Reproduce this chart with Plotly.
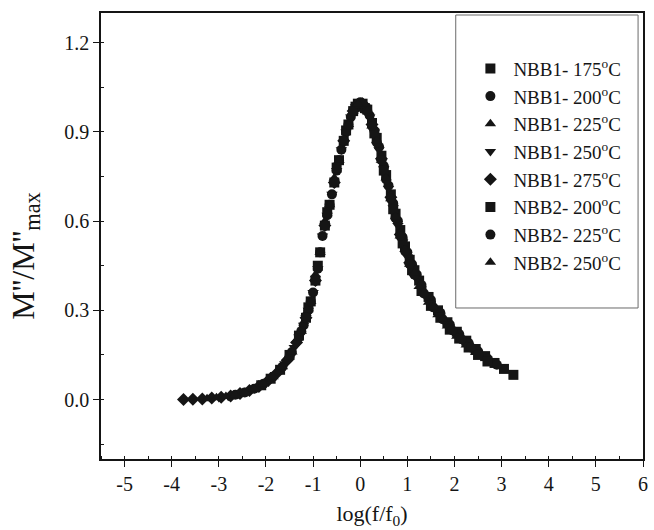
import plotly.graph_objects as go

# ---- data ----
names = ["NBB1- 175<sup>o</sup>C", "NBB1- 200<sup>o</sup>C", "NBB1- 225<sup>o</sup>C",
         "NBB1- 250<sup>o</sup>C", "NBB1- 275<sup>o</sup>C", "NBB2- 200<sup>o</sup>C",
         "NBB2- 225<sup>o</sup>C", "NBB2- 250<sup>o</sup>C"]
symbols = ["square", "circle", "triangle-up", "triangle-down", "diamond",
           "square", "circle", "triangle-up"]

x_nbb1_175 = [-1.15, -1.05, -0.95, -0.85, -0.75, -0.65, -0.55, -0.45, -0.35, -0.25, -0.15,
              -0.05, 0.05, 0.15, 0.25, 0.35, 0.45, 0.55, 0.65, 0.75, 0.85, 0.95, 1.05, 1.15,
              1.25, 1.45, 1.65, 1.85, 2.05, 2.25, 2.45, 2.65, 2.85, 3.05, 3.25]
y_nbb1_175 = [0.275, 0.33, 0.40, 0.495, 0.585, 0.655, 0.73, 0.805, 0.87, 0.925, 0.97,
              0.995, 0.995, 0.975, 0.93, 0.88, 0.82, 0.755, 0.69, 0.625, 0.57, 0.515, 0.47,
              0.435, 0.40, 0.345, 0.30, 0.26, 0.228, 0.198, 0.17, 0.146, 0.123, 0.103, 0.083]

x_nbb1_200 = [-1.7, -1.5, -1.3, -1.2, -1.1, -1.0, -0.9, -0.8, -0.7, -0.6, -0.5, -0.4, -0.3,
              -0.2, -0.1, 0.0, 0.1, 0.2, 0.3, 0.4, 0.5, 0.6, 0.7, 0.8, 0.9, 1.0, 1.1, 1.2,
              1.3, 1.5, 1.7, 1.9, 2.1, 2.3, 2.5, 2.7, 2.9]
y_nbb1_200 = [0.10, 0.145, 0.21, 0.25, 0.30, 0.36, 0.44, 0.55, 0.62, 0.69, 0.77, 0.84, 0.90,
              0.95, 0.985, 1.0, 0.985, 0.955, 0.905, 0.85, 0.785, 0.72, 0.66, 0.60, 0.545,
              0.495, 0.455, 0.42, 0.385, 0.335, 0.292, 0.252, 0.22, 0.19, 0.162, 0.138, 0.117]

x_nbb1_225 = [-2.35, -2.15, -1.95, -1.75, -1.55, -1.35, -1.15, -0.95, -0.75, -0.55, -0.35,
              -0.15, 0.05, 0.25, 0.45, 0.65, 0.85, 1.05, 1.25, 1.45, 1.65, 1.85, 2.05, 2.25, 2.45]
y_nbb1_225 = [0.032, 0.047, 0.068, 0.098, 0.14, 0.20, 0.29, 0.42, 0.60, 0.745, 0.875,
              0.97, 0.995, 0.92, 0.805, 0.675, 0.55, 0.455, 0.38, 0.327, 0.285, 0.247, 0.213,
              0.183, 0.158]

x_nbb1_250 = [-3.0, -2.8, -2.6, -2.4, -2.2, -2.0, -1.8, -1.6, -1.4, -1.3, -1.2, -1.1, -1.0,
              -0.9, -0.8, -0.7, -0.6, -0.5, -0.4, -0.3, -0.2, -0.1, 0.0, 0.1, 0.2, 0.3, 0.4,
              0.5, 0.6, 0.7, 0.8, 0.9, 1.0, 1.2, 1.4, 1.6, 1.8]
y_nbb1_250 = [0.007, 0.011, 0.018, 0.027, 0.040, 0.058, 0.084, 0.12, 0.175, 0.21, 0.25, 0.30,
              0.36, 0.44, 0.55, 0.62, 0.69, 0.77, 0.84, 0.90, 0.95, 0.985, 1.0, 0.985, 0.95,
              0.90, 0.84, 0.775, 0.71, 0.645, 0.585, 0.53, 0.48, 0.405, 0.345, 0.30, 0.26]

x_nbb1_275 = [-3.75, -3.55, -3.35, -3.15, -2.95, -2.75, -2.55, -2.35, -2.15, -1.95, -1.75,
              -1.55, -1.35, -1.15, -0.95, -0.75, -0.55, -0.35, -0.15, 0.05, 0.25, 0.45, 0.65,
              0.85, 1.05]
y_nbb1_275 = [0.0, 0.001, 0.002, 0.005, 0.008, 0.012, 0.02, 0.03, 0.044, 0.064, 0.092,
              0.132, 0.192, 0.275, 0.40, 0.585, 0.73, 0.87, 0.97, 0.995, 0.925, 0.81, 0.68,
              0.555, 0.46]

x_nbb2_200 = [-2.1, -1.9, -1.7, -1.5, -1.3, -1.1, -0.9, -0.7, -0.5, -0.3, -0.1, 0.1, 0.3,
              0.5, 0.7, 0.9, 1.1, 1.3, 1.5, 1.7, 1.9, 2.1, 2.3, 2.5, 2.7]
y_nbb2_200 = [0.048, 0.07, 0.10, 0.15, 0.215, 0.31, 0.45, 0.63, 0.78, 0.905, 0.985, 0.98,
              0.895, 0.77, 0.64, 0.525, 0.435, 0.365, 0.315, 0.275, 0.235, 0.205, 0.175,
              0.15, 0.128]

x_nbb2_225 = [-2.65, -2.45, -2.25, -2.05, -1.85, -1.65, -1.45, -1.25, -1.15, -1.05, -0.95,
              -0.85, -0.75, -0.65, -0.55, -0.45, -0.35, -0.25, -0.15, -0.05, 0.05, 0.15, 0.25,
              0.35, 0.45, 0.55, 0.65, 0.75, 0.85, 0.95, 1.05, 1.15, 1.35, 1.55, 1.75, 1.95,
              2.15, 2.35]
y_nbb2_225 = [0.016, 0.024, 0.036, 0.053, 0.077, 0.11, 0.16, 0.23, 0.275, 0.33, 0.40,
              0.495, 0.585, 0.655, 0.73, 0.805, 0.87, 0.925, 0.97, 0.995, 0.995, 0.97, 0.92,
              0.865, 0.805, 0.74, 0.675, 0.61, 0.55, 0.50, 0.455, 0.42, 0.357, 0.31, 0.27,
              0.233, 0.203, 0.175]

x_nbb2_250 = [-3.25, -3.05, -2.85, -2.65, -2.45, -2.25, -2.05, -1.85, -1.65, -1.45, -1.25,
              -1.05, -0.85, -0.65, -0.45, -0.25, -0.05, 0.15, 0.35, 0.55, 0.75, 0.95, 1.15,
              1.35, 1.55, 1.75]
y_nbb2_250 = [0.003, 0.006, 0.010, 0.016, 0.024, 0.036, 0.053, 0.077, 0.11, 0.16, 0.23,
              0.33, 0.495, 0.655, 0.805, 0.925, 0.995, 0.97, 0.87, 0.745, 0.615, 0.505,
              0.425, 0.36, 0.31, 0.27]

xs = [x_nbb1_175, x_nbb1_200, x_nbb1_225, x_nbb1_250, x_nbb1_275, x_nbb2_200, x_nbb2_225, x_nbb2_250]
ys = [y_nbb1_175, y_nbb1_200, y_nbb1_225, y_nbb1_250, y_nbb1_275, y_nbb2_200, y_nbb2_225, y_nbb2_250]

x_ticks = [-5, -4, -3, -2, -1, 0, 1, 2, 3, 4, 5, 6]
y_ticks = [0.0, 0.3, 0.6, 0.9, 1.2]
y_ticklabels = ["0.0", "0.3", "0.6", "0.9", "1.2"]

FONT = "Liberation Serif"
INK = "#151515"

fig = go.Figure()
for i, (nm, sym, xv, yv) in enumerate(zip(names, symbols, xs, ys)):
    fig.add_trace(go.Scatter(
        x=xv, y=yv, mode="markers", name=nm, legendgroup=f"g{i}",
        marker=dict(symbol=sym, size=10, color=INK, line=dict(width=0)),
    ))

axis_common = dict(
    showgrid=False, zeroline=False, showline=True, linecolor=INK, linewidth=1.6,
    mirror=True, ticks="outside", ticklen=6, tickwidth=1.3, tickcolor=INK,
    tickfont=dict(family=FONT, size=20, color=INK),
)

fig.update_xaxes(
    range=[-5.5, 6], tickvals=x_ticks, ticktext=[str(v) for v in x_ticks],
    minor=dict(dtick=0.5, tick0=0, ticks="inside", ticklen=3, tickcolor=INK, tickwidth=1),
    title=dict(text="log(f/f<sub>0</sub>)", font=dict(family=FONT, size=22, color=INK), standoff=12),
    **axis_common,
)
fig.update_yaxes(
    range=[-0.2, 1.3], tickvals=y_ticks, ticktext=y_ticklabels,
    minor=dict(dtick=0.15, tick0=0, ticks="inside", ticklen=3, tickcolor=INK, tickwidth=1),
    **axis_common,
)

# y-axis title placed as a rotated annotation
fig.add_annotation(
    text="M''/M''<sub>max</sub>", textangle=-90, showarrow=False,
    xref="paper", yref="paper", x=-0.141, y=0.455, xanchor="center", yanchor="middle",
    font=dict(family=FONT, size=32, color=INK),
)

fig.add_shape(type="rect", xref="paper", yref="paper",
              x0=0.6545, x1=0.9909, y0=0.3386, y1=0.9955,
              line=dict(color="#6a6a6a", width=1), fillcolor="rgba(0,0,0,0)", layer="above")

fig.update_layout(
    width=654, height=530,
    margin=dict(l=101, r=6, t=13, b=71),
    paper_bgcolor="white", plot_bgcolor="white",
    showlegend=True,
    legend=dict(
        x=0.676, y=0.918, xanchor="left", yanchor="top",
        bgcolor="rgba(0,0,0,0)", borderwidth=0,
        font=dict(family=FONT, size=19, color=INK),
        traceorder="grouped", tracegroupgap=0,
        itemwidth=36,
    ),
)

fig.write_html("out.html")
